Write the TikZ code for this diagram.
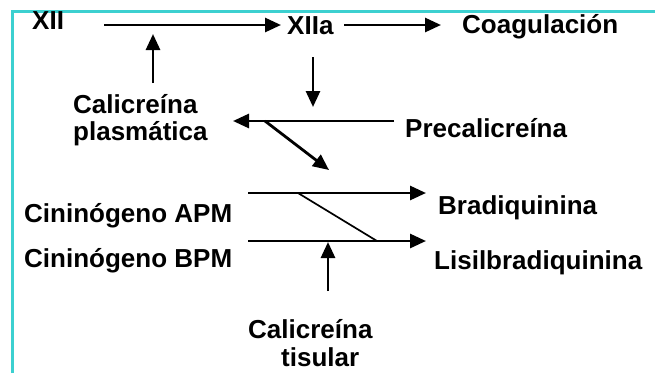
\documentclass[tikz,border=0pt]{standalone}
\usepackage{fontspec}
\setmainfont{Liberation Sans}
\usetikzlibrary{arrows.meta}
\definecolor{frameteal}{RGB}{60,208,208}
\tikzset{
  lbl/.style={anchor=base west, inner sep=0pt, font=\fontsize{26}{28}\selectfont\bfseries},
  arr/.style={line width=2.8pt, -{Triangle[length=16pt,width=14pt]}},
  thinline/.style={line width=1.7pt},
  frameline/.style={draw=frameteal, line width=3pt}
}
\begin{document}
\begin{tikzpicture}[x=1pt,y=-1pt]
\useasboundingbox (0,0) rectangle (655,373);
% teal frame (top and left edges)
\draw[frameline] (12.5,373) -- (12.5,11.5) -- (655,11.5);

% labels
\node[lbl] (xii)   at (32,29)   {XII};
\node[lbl] (xiia)  at (287,34)  {XIIa};
\node[lbl] (coag)  at (462,33)  {Coagulación};
\node[lbl] (calp)  at (73,113)  {Calicreína};
\node[lbl] (calp2) at (73,140)  {plasmática};
\node[lbl] (precal) at (405,137) {Precalicreína};
\node[lbl] (hmwk)  at (24,222)  {Cininógeno APM};
\node[lbl] (brad)  at (438,214) {Bradiquinina};
\node[lbl] (lmwk)  at (24,267)  {Cininógeno BPM};
\node[lbl] (lbrad) at (434,269) {Lisilbradiquinina};
\node[lbl] (calt)  at (248,338) {Calicreína};
\node[lbl] (calt2) at (281,366) {tisular};

% connector end points
\coordinate (xiiOut)   at (104,25);
\coordinate (xiiaIn)   at (281,25);
\coordinate (xiiaOut)  at (344,25);
\coordinate (coagIn)   at (441,25);
\coordinate (actPt)    at (153,34);
\coordinate (calpUp)   at (153,83);
\coordinate (xiiaDown) at (313,57);
\coordinate (xiiaTip)  at (313,107);
\coordinate (precOut)  at (394,121);
\coordinate (calpIn)   at (233,121);
\coordinate (branch)   at (265,121);
\coordinate (branchTip) at (329,170);
\coordinate (hmwkOut)  at (248,193);
\coordinate (bradIn)   at (426,193);
\coordinate (lmwkOut)  at (248,241);
\coordinate (lbradIn)  at (426,241);
\coordinate (crossA)   at (298,193);
\coordinate (crossB)   at (377,241);
\coordinate (caltUp)   at (328,291);
\coordinate (caltTip)  at (328,242);

% connectors
\draw[arr] (xiiOut) -- (xiiaIn);
\draw[arr] (xiiaOut) -- (coagIn);
\draw[arr] (calpUp) -- (actPt);
\draw[arr] (xiiaDown) -- (xiiaTip);
\draw[arr] (precOut) -- (calpIn);
\draw[arr] (branch) -- (branchTip);
\draw[arr] (hmwkOut) -- (bradIn);
\draw[arr] (lmwkOut) -- (lbradIn);
\draw[thinline] (crossA) -- (crossB);
\draw[arr] (caltUp) -- (caltTip);
\end{tikzpicture}
\end{document}
